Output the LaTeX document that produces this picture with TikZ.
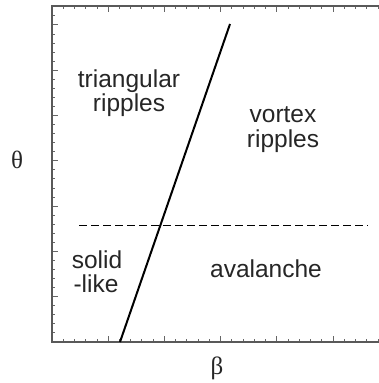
\documentclass[tikz,border=0pt]{standalone}
\usepackage{fontspec}
\setmainfont{Liberation Sans}
\newfontfamily\greekfont{Liberation Serif}
\begin{document}
\begin{tikzpicture}[x=1pt,y=1pt,
  lbl/.style={font=\fontsize{24.5}{24.5}\selectfont, anchor=base, inner sep=0pt, text=black!85},
  axlbl/.style={font=\greekfont\fontsize{25}{25}\selectfont, inner sep=0pt, text=black!85},
  framestyle/.style={line width=2pt, draw=black!65},
  tickstyle/.style={line width=0.9pt, draw=black!60},
  boundary/.style={line width=2pt, draw=black},
  transition/.style={line width=1.4pt, draw=black, dash pattern=on 8pt off 4pt}]
\useasboundingbox (0,0) rectangle (379,383);
\clip (0,0) rectangle (379,383);
\fill[white] (0,0) rectangle (379,383);
% ticks
\foreach \i in {0,...,37}{
  \pgfmathsetmacro{\yy}{41+9.06*\i}
  \pgfmathsetmacro{\len}{mod(\i,5)==0 ? 6 : 3}
  \draw[tickstyle] (52,\yy) -- ++(\len,0);
}
\foreach \i in {0,...,30}{
  \pgfmathsetmacro{\xx}{52+11.24*\i}
  \pgfmathsetmacro{\len}{mod(\i,5)==0 ? 6 : 3}
  \draw[tickstyle] (\xx,41) -- ++(0,\len);
  \draw[tickstyle] (\xx,377) -- ++(0,-\len);
}
% frame
\draw[framestyle] (395,41) -- (52,41) -- (52,377) -- (395,377);
% boundaries
\coordinate (b0) at (120,41);
\coordinate (b1) at (230,359);
\coordinate (d0) at (79,157.3);
\coordinate (d1) at (368,157.3);
\draw[boundary] (b0) -- (b1);
\draw[transition] (d0) -- (d1);
% labels
\node[lbl] (tri1) at (129,295) {triangular};
\node[lbl] (tri2) at (129,271) {ripples};
\node[lbl] (vor1) at (283,260) {vortex};
\node[lbl] (vor2) at (283,235) {ripples};
\node[lbl] (sol1) at (97,114) {solid};
\node[lbl] (sol2) at (96,90) {-like};
\node[lbl] (ava) at (266,105) {avalanche};
\node[axlbl] (theta) at (17,223) {θ};
\node[axlbl] (beta) at (217,15) {β};
\end{tikzpicture}
\end{document}
